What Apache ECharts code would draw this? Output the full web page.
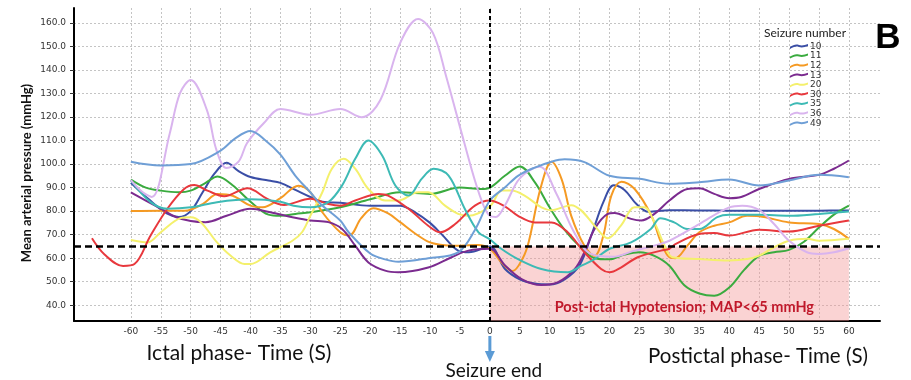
<!DOCTYPE html>
<html>
<head>
<meta charset="utf-8">
<script src="https://cdn.jsdelivr.net/npm/echarts@6/dist/echarts.min.js"></script>
<style>
  html, body { margin: 0; padding: 0; background: #fff; }
  #chart { width: 911px; height: 380px; }
</style>
</head>
<body>
<div id="chart"></div>
<script>
// Mean arterial pressure (mmHg) around seizure end, time in seconds
const seizureNames = ['10', '11', '12', '13', '20', '30', '35', '36', '49'];
const seizureColors = ['#3a4ea6', '#3aab3f', '#f59a23', '#7b2b8f', '#f4f06c', '#e8383d', '#3dbab5', '#d9b4ee', '#6f9fd6'];

const map10 = [[-60,92],[-57,85],[-54,79],[-52,77.5],[-50,80],[-48,88],[-46,96],[-44,100.5],[-42,97],[-40,94.5],[-37,93],[-35,92],[-32.5,89],[-30,86],[-28,84],[-25,83.5],[-20,82.3],[-15,82.3],[-12.5,79.5],[-10,75],[-8,70],[-5.3,63.2],[-3.5,62.5],[0,65],[2.5,55.5],[5,51],[7.5,49.2],[10,48.8],[12.5,51],[15,57],[17,70],[19,84],[20.7,91],[22.5,89],[24.5,83],[26.5,79.7],[30,80.4],[35,80.3],[40,80.2],[45,80.2],[50,80.2],[55,80.2],[60,80.3]];
const map11 = [[-60,93.4],[-57.5,90],[-55,88.7],[-52,88],[-50,88.7],[-47.5,92],[-45.5,94.7],[-43,91],[-40,84],[-37,78.5],[-35,78],[-32.5,78.8],[-30,79.5],[-25,81.6],[-20,85],[-15,88],[-10,87.3],[-5,90],[-1.5,89.4],[0,90],[2.5,95],[5,99],[7.5,92.3],[10,81.5],[12.5,72],[15,65],[17.5,60],[20,59.5],[22.5,61.5],[25,62.5],[27.5,61],[30,56.8],[32.5,48.5],[35,45],[37.5,44],[40,47.5],[42.5,55],[45,61],[47.5,62.5],[50,63.5],[52.5,67],[55,73],[57.5,78.5],[60,82.3]];
const map12 = [[-60,80],[-55,80.2],[-51,80.2],[-48,83],[-45.5,87.3],[-43,86.5],[-40,82.3],[-38,81.6],[-35,85.5],[-32,90.8],[-30,88],[-28,79.5],[-25,71],[-23.5,69.6],[-21.5,77],[-19.5,81.2],[-17,79],[-15,75.3],[-12.5,70.5],[-10,66.7],[-7.5,65.5],[-5,65.3],[-2,65.6],[0,64],[2,58],[3.8,54.5],[5.5,60],[6.5,67],[8.5,90],[10.3,101],[12,93.5],[13.6,78],[15.8,65.3],[17.5,61],[19,70],[20.3,86.6],[22,92.5],[24.2,89.4],[27,78],[28.6,66.7],[30,60.4],[31,60],[33,65.3],[35,71],[37.5,73.8],[40,75.2],[43,78],[45,77.8],[50,75.2],[55,74.5],[57.5,72.4],[60,68.2]];
const map13 = [[-60,88],[-57.5,84.5],[-55,81],[-52.5,77.5],[-50,75.8],[-47.5,75.3],[-44,78],[-40,81],[-36.7,79.5],[-33,77.4],[-30,76],[-27,75.3],[-24.7,72.4],[-22.5,65.3],[-20.3,58.2],[-17.5,54.7],[-15.3,54],[-10.3,56],[-6.4,60.4],[-3.6,63.2],[0,64],[2.5,57],[5.3,51.1],[8.6,48.6],[11.4,49.8],[14.2,55.4],[15.8,62.5],[17.5,72.4],[19.7,78.8],[20.8,79.2],[23.6,76.7],[25.3,76],[27.5,78.8],[30,84.5],[33,89.4],[35,89.7],[37.5,87.3],[40,85.5],[42,86],[45,89.4],[50,93.7],[55,95.4],[57.5,98],[60,101.5]];
const map20 = [[-60,67.7],[-57.2,66.7],[-55,71],[-51.7,77],[-50,77.4],[-48.3,75.3],[-45.6,66.7],[-43.3,61],[-41,57.5],[-40,57.5],[-36.7,62.5],[-33,67.4],[-31.4,71],[-30,78],[-28,88],[-26.4,98],[-24.4,102.2],[-22.5,98],[-20.3,89.4],[-17.5,84.5],[-15.3,84.5],[-12,88],[-10.3,88],[-7.5,82.3],[-5.3,78.8],[-3.6,78],[0,82],[2,88.7],[3.6,88.7],[5.8,86.6],[8.6,81.6],[10.3,80.4],[13.6,82.5],[15.3,80.2],[17.5,73.8],[19.7,68.5],[21.9,73.8],[24.2,81.6],[25.8,81.6],[27.5,75.2],[29.2,65.3],[30.5,60.4],[35,59.6],[40,59],[43,59.6],[45,61.1],[47.5,64.6],[50,67.4],[53,68.2],[55,67.4],[60,68.2]];
const map30 = [[-66.5,68.5],[-64.4,61.6],[-61.3,56.7],[-59.4,57.5],[-56.7,69.6],[-53.9,81],[-51.1,89.4],[-49.4,91.1],[-47.2,88.7],[-44.4,86.3],[-40.5,89.7],[-37.2,85.2],[-34.4,82.6],[-30,85.2],[-27,83],[-25,82.3],[-22.5,84.5],[-18.6,87.3],[-17,86.6],[-13.6,81],[-10.3,73.8],[-8.3,71],[-5.8,74.5],[-2.5,82.3],[0,84.5],[2.5,82],[4.7,78],[7.5,75.2],[10.3,75.2],[13,71],[15.8,62.5],[18.6,55.4],[20,54],[21.9,56],[24.7,60.4],[28.6,63.2],[30,64],[31,66],[35,70.3],[37.5,70.7],[40,69.6],[45,72.1],[50,71.3],[55,73.8],[60,76]];
const map35 = [[-60,93],[-56.7,83.8],[-53.9,81],[-50,81.6],[-45.6,83.8],[-40,85],[-35,84],[-32.8,82.3],[-30,81.6],[-27,83.8],[-24.7,90.9],[-22.5,102.2],[-20.3,110],[-18,103.6],[-15.8,90.9],[-13.6,86.6],[-11.4,93.7],[-9.4,98],[-6.9,95.1],[-4.2,81],[-1.9,71],[0,68],[1.9,64],[4.7,59.6],[8.6,55.4],[13,54],[15.3,56.8],[17.5,59.6],[20,64],[23.6,66.7],[26.9,72.4],[28.5,77],[30.8,75.2],[33,72.4],[35,72.4],[38,77.4],[40,78.4],[45,78.4],[50,78],[55,78.8],[60,79.8]];
const map36 = [[-60,93.2],[-58,88],[-56.5,86],[-53.5,113],[-51.8,130],[-50,135.7],[-47.3,123],[-45.7,106],[-44,98.3],[-42,101],[-40.6,108.8],[-37.8,117.3],[-35,123.4],[-30,120.9],[-25,123.4],[-21.4,119.9],[-18.3,127.2],[-15,151.4],[-12,161.6],[-9.5,155.6],[-7.3,137.2],[-4.4,110.2],[-2.5,93],[-1,82],[0,78],[1,77.5],[2.5,82.3],[5,93.9],[8.3,98.8],[11.1,87.5],[13.9,71.9],[16.7,62],[20.6,60.6],[23.9,63],[27,65],[30,67.4],[35,74.5],[40,81.6],[42.2,82.3],[45,80.5],[47.5,74.5],[50,67.4],[53,62.5],[55,61.8],[57.5,62.5],[60,64.2]];
const map49 = [[-60,101],[-55,99.4],[-50,100],[-45,105.7],[-42.5,111],[-40,114],[-37.5,110],[-35,104],[-32.5,95],[-30,88],[-28.3,83],[-25,76],[-23.6,71],[-20,62],[-17.5,59.5],[-15.3,58.5],[-10.3,60],[-5.3,62.5],[-2.5,72],[0,84.5],[2.5,90],[4.7,95],[7.5,98.5],[10.3,101],[12.5,102],[15.8,100.8],[20,95],[25,93.7],[30,91.6],[35,92.3],[40,93.4],[45,90.9],[50,93],[55,95.4],[60,94.4]];
const seizureData = [map10, map11, map12, map13, map20, map30, map35, map36, map49];

// Axis ticks and reference values
const timeTicks = [-60,-55,-50,-45,-40,-35,-30,-25,-20,-15,-10,-5,0,5,10,15,20,25,30,35,40,45,50,55,60];
const mapTicks = [40,50,60,70,80,90,100,110,120,130,140,150,160];
const hypotensionLimit = 65;
const seizureEnd = 0;
const windowEnd = 60;

const X_MIN = -69.5, X_MAX = 65.2;
const Y_MIN = 33.3, Y_MAX = 166.3;

const chart = echarts.init(document.getElementById('chart'), null, { renderer: 'canvas' });

const lineSeries = seizureNames.map((name, i) => ({
  name: name,
  type: 'line',
  data: seizureData[i],
  smooth: 0.35,
  symbol: 'none',
  clip: true,
  z: 3,
  lineStyle: { color: seizureColors[i], width: 2 },
  itemStyle: { color: seizureColors[i] }
}));

const refSeries = {
  name: 'ref',
  type: 'line',
  data: [],
  silent: true,
  z: 1,
  markArea: {
    silent: true,
    itemStyle: { color: 'rgba(244,150,150,0.42)' },
    label: {
      show: true,
      position: 'insideBottom',
      distance: 6,
      offset: [15, 0],
      formatter: 'Post-ictal Hypotension; MAP<65 mmHg',
      color: '#c0182a',
      fontFamily: 'Lato',
      fontWeight: 'bold',
      fontSize: 14.5
    },
    data: [[{ coord: [seizureEnd, Y_MIN] }, { coord: [windowEnd, hypotensionLimit] }]]
  },
  markLine: {
    silent: true,
    symbol: 'none',
    label: { show: false },
    animation: false,
    data: [
      { yAxis: hypotensionLimit, lineStyle: { color: '#000', width: 2.5, type: [7, 4] } },
      { xAxis: seizureEnd, lineStyle: { color: '#000', width: 2, type: [4, 3] } }
    ]
  }
};

const option = {
  animation: false,
  backgroundColor: '#fff',
  grid: { left: 74, right: 31, top: 8, bottom: 59 },
  legend: {
    data: seizureNames,
    orient: 'vertical',
    left: 790,
    top: 42,
    itemWidth: 18,
    itemHeight: 8,
    itemGap: 0.6,
    icon: 'path://M0,5 C3,3 6,2 9,3 C12,4 15,3 18,2 L18,4 C15,5 12,6 9,5 C6,4 3,5 0,7 Z',
    textStyle: { fontFamily: 'DejaVu Sans', fontSize: 9, color: '#333', lineHeight: 9, padding: [0, 0, 0, -3] },
    padding: 0,
    selectedMode: false
  },
  xAxis: {
    type: 'value',
    min: X_MIN,
    max: X_MAX,
    axisLine: { show: true, onZero: false, lineStyle: { color: '#000', width: 2 } },
    axisTick: { show: false, customValues: timeTicks },
    axisLabel: {
      customValues: timeTicks,
      margin: 6,
      fontFamily: 'DejaVu Sans',
      fontSize: 9,
      color: '#333'
    },
    splitLine: { show: true, lineStyle: { color: '#c4c4c4', width: 1, type: [2, 2] } }
  },
  yAxis: {
    type: 'value',
    min: Y_MIN,
    max: Y_MAX,
    axisLine: { show: true, onZero: false, lineStyle: { color: '#000', width: 2 } },
    axisTick: { show: true, length: 4, customValues: mapTicks, lineStyle: { color: '#333', width: 1 } },
    axisLabel: {
      customValues: mapTicks,
      margin: 8,
      fontFamily: 'DejaVu Sans',
      fontSize: 9,
      color: '#333',
      formatter: v => v.toFixed(1)
    },
    splitLine: { show: true, lineStyle: { color: '#c4c4c4', width: 1, type: [2, 2] } }
  },
  series: lineSeries.concat([refSeries])
};

chart.setOption(option);

// Annotations placed from axis positions
const x0 = chart.convertToPixel({ xAxisIndex: 0 }, seizureEnd);
chart.setOption({
  graphic: [
    {
      type: 'text', x: 27, y: 173, rotation: Math.PI / 2,
      style: { text: 'Mean arterial pressure (mmHg)', fontFamily: 'Lato', fontWeight: 'bold', fontSize: 13, fill: '#111', align: 'center', verticalAlign: 'middle' }
    },
    {
      type: 'text', x: 805, y: 33,
      style: { text: 'Seizure number', fontFamily: 'Lato', fontSize: 12, fill: '#222', align: 'center', verticalAlign: 'middle' }
    },
    {
      type: 'text', x: 888, y: 38,
      style: { text: 'B', fontFamily: 'Liberation Sans', fontWeight: 'bold', fontSize: 35, fill: '#000', align: 'center', verticalAlign: 'middle' }
    },
    {
      type: 'text', x: 239, y: 353,
      style: { text: 'Ictal phase- Time (S)', fontFamily: 'Lato', fontSize: 21, fill: '#111', align: 'center', verticalAlign: 'middle' }
    },
    {
      type: 'text', x: 758, y: 356,
      style: { text: 'Postictal phase- Time (S)', fontFamily: 'Lato', fontSize: 20.5, fill: '#111', align: 'center', verticalAlign: 'middle' }
    },
    {
      type: 'text', x: x0 + 4, y: 371,
      style: { text: 'Seizure end', fontFamily: 'Lato', fontSize: 19, fill: '#111', align: 'center', verticalAlign: 'middle' }
    },
    {
      type: 'line', shape: { x1: x0, y1: 336, x2: x0, y2: 353 },
      style: { stroke: '#5b9bd5', lineWidth: 3 }
    },
    {
      type: 'polygon', shape: { points: [[x0 - 5, 351], [x0 + 5, 351], [x0, 362]] },
      style: { fill: '#5b9bd5' }
    }
  ]
});
</script>
</body>
</html>
